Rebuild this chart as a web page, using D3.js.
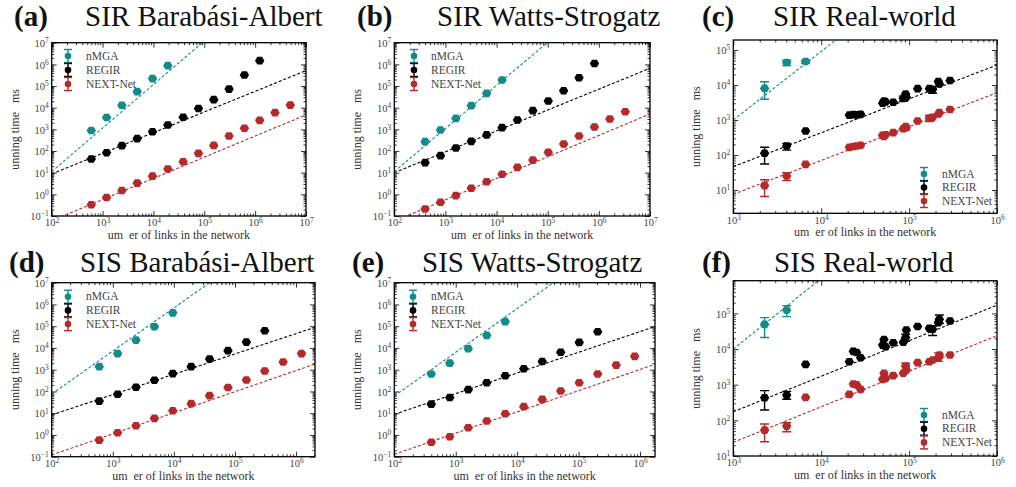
<!DOCTYPE html>
<html>
<head>
<meta charset="utf-8">
<script src="https://cdn.jsdelivr.net/npm/d3@7/dist/d3.min.js"></script>
<style>
  body { margin: 0; background: #fff; }
  svg { display: block; }
</style>
</head>
<body>
<svg id="chart" width="1016" height="487"></svg>
<script>
// network sizes (number of links) used for the synthetic networks
var sizesBA = [600, 1200, 2400, 4800, 9600, 19200, 38400, 76800, 153600, 307200, 614400, 1228800, 2457600, 4915200];
var sizesWS = [400, 800, 1600, 3200, 6400, 12800, 25600, 51200, 102400, 204800, 409600, 819200, 1638400, 3276800];
var realLinks = [2270, 4050, 6650, 20900, 23200, 25300, 28100, 50000, 51800, 54000, 66000, 85900, 91400, 93000, 125000, 170000, 185000, 215000, 221000, 292000];

var seriesNames = ["nMGA", "REGIR", "NEXT-Net"];
var seriesColors = ["#148b8b", "#000000", "#b5292a"];

// (a) SIR Barabasi-Albert, running time in ms
var sirBA_nmga = [890, 3500, 13000, 55000, 220000, 870000];
var sirBA_regir = [43, 83, 178, 372, 780, 1580, 3600, 9100, 23500, 72000, 322000, 1480000];
var sirBA_next = [0.33, 0.72, 1.5, 3.3, 6.9, 14.7, 32, 78, 182, 490, 1120, 2600, 5900, 13200];

// (b) SIR Watts-Strogatz
var sirWS_nmga = [270, 930, 3200, 12400, 46000, 190000];
var sirWS_regir = [29, 61, 137, 280, 555, 1200, 2700, 7300, 20400, 61000, 240000, 1100000];
var sirWS_next = [0.21, 0.43, 0.87, 1.9, 3.8, 8.4, 17.6, 38, 87, 210, 490, 1280, 3000, 6500];

// (c) SIR real-world
var sirReal_nmga = [8000, 44000, 47000];
var sirReal_regir = [112, 180, 485, 1380, 1420, 1400, 1450, 3000, 3500, 3300, 3200, 4100, 5500, 4500, 7850, 7850, 7500, 12600, 10700, 13500];
var sirReal_next = [13.3, 25, 54, 165, 175, 180, 190, 365, 340, 380, 435, 560, 645, 600, 935, 1140, 1200, 1490, 1620, 2000];
// error bars: [index, low, high]
var sirReal_nmgaErr = [[0, 3900, 12400], [1, 36000, 51000], [2, 42000, 52000]];
var sirReal_regirErr = [[0, 55, 166], [1, 138, 215], [11, 3400, 4800], [16, 5800, 9000]];
var sirReal_nextErr = [[0, 6.5, 19.5], [1, 18.5, 31], [12, 520, 700], [15, 900, 1350]];

// (d) SIS Barabasi-Albert
var sisBA_nmga = [1380, 5500, 23000, 95000, 410000];
var sisBA_regir = [36, 74, 155, 325, 660, 1380, 3100, 7500, 18600, 62000];
var sisBA_next = [0.58, 1.26, 2.66, 5.8, 13, 27.5, 64, 153, 335, 870, 2250, 5500];

// (e) SIS Watts-Strogatz
var sisWS_nmga = [630, 2000, 9300, 38000, 162000];
var sisWS_regir = [26, 53, 121, 253, 530, 1110, 2400, 6300, 18000, 56000];
var sisWS_next = [0.46, 0.83, 2.15, 4.4, 9.5, 20, 43, 105, 253, 630, 1630, 4100];

// (f) SIS real-world
var sisReal_nmga = [49000, 124000];
var sisReal_regir = [430, 510, 3700, 4400, 8600, 8000, 5700, 12900, 18500, 11600, 15000, 15500, 21000, 34000, 43000, 38000, 36000, 55000, 68000, 61000];
var sisReal_next = [53, 69, 440, 535, 1040, 990, 740, 1410, 2090, 1500, 1790, 2090, 3330, 2600, 4150, 4400, 4900, 5600, 6800, 6800];
var sisReal_nmgaErr = [[0, 21000, 76000], [1, 81000, 165000]];
var sisReal_regirErr = [[0, 195, 680], [1, 390, 650], [12, 16500, 26000], [16, 24000, 45000], [18, 52000, 90000]];
var sisReal_nextErr = [[0, 25, 79], [1, 48, 86], [12, 2500, 4000], [17, 4500, 7800]];

// power-law fits: [log10(time) at 1000 links, exponent], order nMGA, REGIR, NEXT-Net
var fitSirBA = [[3.06, 2.01], [1.894, 0.954], [-0.242, 0.978]];
var fitSirWS = [[3.04, 1.99], [1.964, 0.964], [-0.25, 0.99]];
var fitSirReal = [[3.0, 1.96], [1.667, 0.968], [0.876, 0.968]];
var fitSisBA = [[3.86, 1.98], [1.855, 0.935], [0.05, 0.97]];
var fitSisWS = [[3.80, 2.01], [1.90, 0.95], [0.085, 0.975]];
var fitSisReal = [[4.0, 1.98], [2.24, 0.997], [1.383, 0.997]];

var FONT = "Liberation Serif";

var svg = d3.select("#chart");

var panels = [
    {tag: "(a)", title: "SIR Barabási-Albert", tagX: 14, titleX: 85, base: 26,
     box: [51.7, 306, 42.7, 216], xDom: [1e2, 1e7], yDom: [1e-1, 1e7],
     xs: [sizesBA, sizesBA, sizesBA], ys: [sirBA_nmga, sirBA_regir, sirBA_next], errs: [[], [], []],
     fits: fitSirBA, legend: [68, 86, 56, 14]},
    {tag: "(b)", title: "SIR Watts-Strogatz", tagX: 357, titleX: 437, base: 26,
     box: [394.3, 650, 42.7, 216], xDom: [1e2, 1e7], yDom: [1e-1, 1e7],
     xs: [sizesWS, sizesWS, sizesWS], ys: [sirWS_nmga, sirWS_regir, sirWS_next], errs: [[], [], []],
     fits: fitSirWS, legend: [414, 431, 56, 14]},
    {tag: "(c)", title: "SIR Real-world", tagX: 702, titleX: 773, base: 26,
     box: [733.3, 997, 40, 213.3], xDom: [1e3, 1e6], yDom: [Math.pow(10, 0.333), Math.pow(10, 5.286)],
     xs: [realLinks, realLinks, realLinks], ys: [sirReal_nmga, sirReal_regir, sirReal_next],
     errs: [sirReal_nmgaErr, sirReal_regirErr, sirReal_nextErr],
     fits: fitSirReal, legend: [924, 942, 174, 13.5]},
    {tag: "(d)", title: "SIS Barabási-Albert", tagX: 9, titleX: 80, base: 272,
     box: [51.7, 315, 282.7, 456.7], xDom: [1e2, Math.pow(10, 6.31)], yDom: [1e-1, 1e7],
     xs: [sizesBA, sizesBA, sizesBA], ys: [sisBA_nmga, sisBA_regir, sisBA_next], errs: [[], [], []],
     fits: fitSisBA, legend: [68, 86, 296.7, 13.7]},
    {tag: "(e)", title: "SIS Watts-Strogatz", tagX: 352, titleX: 422, base: 272,
     box: [394.3, 655, 282.7, 456.7], xDom: [1e2, Math.pow(10, 6.244)], yDom: [1e-1, 1e7],
     xs: [sizesWS, sizesWS, sizesWS], ys: [sisWS_nmga, sisWS_regir, sisWS_next], errs: [[], [], []],
     fits: fitSisWS, legend: [413, 431, 296.7, 13.7]},
    {tag: "(f)", title: "SIS Real-world", tagX: 702, titleX: 774, base: 272,
     box: [733.3, 997, 280.7, 456], xDom: [1e3, 1e6], yDom: [1e1, Math.pow(10, 5.916)],
     xs: [realLinks, realLinks, realLinks], ys: [sisReal_nmga, sisReal_regir, sisReal_next],
     errs: [sisReal_nmgaErr, sisReal_regirErr, sisReal_nextErr],
     fits: fitSisReal, legend: [924, 942, 415, 13.7]}
];

var hexPath = "M-4.7,0L-2.4,-3.8L2.4,-3.8L4.7,0L2.4,3.8L-2.4,3.8Z";

function logTicks(dom) {
    var lo = Math.floor(Math.log10(dom[0]) + 1e-9), hi = Math.ceil(Math.log10(dom[1]) - 1e-9);
    var major = [], minor = [];
    for (var e = lo; e <= hi; e++) {
        var b = Math.pow(10, e);
        if (b >= dom[0] * 0.999 && b <= dom[1] * 1.001) major.push(b);
        for (var k = 2; k < 10; k++) {
            if (k * b > dom[0] && k * b < dom[1]) minor.push(k * b);
        }
    }
    return {major: major, minor: minor};
}

function supLabels(sel) {
    sel.selectAll(".tick text").each(function (d) {
        var t = d3.select(this), e = Math.round(Math.log10(d));
        t.text("");
        t.append("tspan").text("10");
        t.append("tspan").attr("dy", "-0.5em").attr("font-size", "7.5")
            .text(e < 0 ? "\u2212" + (-e) : String(e));
    });
}

panels.forEach(function (p, pi) {
    var L = p.box[0], R = p.box[1], T = p.box[2], B = p.box[3];
    var x = d3.scaleLog().domain(p.xDom).range([L, R]);
    var y = d3.scaleLog().domain(p.yDom).range([B, T]);
    var g = svg.append("g");

    g.append("clipPath").attr("id", "clip" + pi)
        .append("rect").attr("x", L).attr("y", T).attr("width", R - L).attr("height", B - T);

    var xt = logTicks(p.xDom), yt = logTicks(p.yDom);

    // ticks on all four sides, pointing inward
    function addAxis(axisFn, scale, ticks, size, tx, ty, labels) {
        var ax = axisFn(scale).tickValues(ticks).tickSizeInner(-size).tickSizeOuter(0)
            .tickPadding(3).tickFormat(labels ? d3.format("") : "");
        var a = g.append("g").attr("transform", "translate(" + tx + "," + ty + ")").call(ax);
        a.attr("font-family", FONT).attr("font-size", 10.5);
        a.select(".domain").remove();
        a.selectAll("line").attr("stroke", "#000").attr("stroke-width", 0.8);
        if (labels) {
            a.selectAll("text").attr("fill", "#444");
            supLabels(a);
        }
        return a;
    }
    addAxis(d3.axisBottom, x, xt.major, 5, 0, B, true);
    addAxis(d3.axisBottom, x, xt.minor, 2.5, 0, B, false);
    addAxis(d3.axisTop, x, xt.major, 5, 0, T, false);
    addAxis(d3.axisTop, x, xt.minor, 2.5, 0, T, false);
    var yl = addAxis(d3.axisLeft, y, yt.major, 5, L, 0, true);
    yl.selectAll("text").attr("dy", "0.35em");
    addAxis(d3.axisLeft, y, yt.minor, 2.5, L, 0, false);
    addAxis(d3.axisRight, y, yt.major, 5, R, 0, false);
    addAxis(d3.axisRight, y, yt.minor, 2.5, R, 0, false);

    // fit lines
    var plot = g.append("g").attr("clip-path", "url(#clip" + pi + ")");
    p.fits.forEach(function (f, si) {
        var ends = p.xDom.map(function (v) {
            return [v, Math.pow(10, f[0] + f[1] * (Math.log10(v) - 3))];
        });
        plot.append("path")
            .attr("d", d3.line().x(function (d) { return x(d[0]); }).y(function (d) { return y(d[1]); })(ends))
            .attr("fill", "none").attr("stroke", seriesColors[si])
            .attr("stroke-width", 1.1).attr("stroke-dasharray", "3,2");
    });

    // error bars and markers
    p.ys.forEach(function (vals, si) {
        var xs = p.xs[si];
        var col = seriesColors[si];
        p.errs[si].forEach(function (e) {
            var cx = x(xs[e[0]]);
            var eg = plot.append("g").attr("stroke", col).attr("stroke-width", 1.4);
            eg.append("line").attr("x1", cx).attr("x2", cx).attr("y1", y(e[1])).attr("y2", y(e[2]));
            eg.append("line").attr("x1", cx - 4.5).attr("x2", cx + 4.5).attr("y1", y(e[1])).attr("y2", y(e[1]));
            eg.append("line").attr("x1", cx - 4.5).attr("x2", cx + 4.5).attr("y1", y(e[2])).attr("y2", y(e[2]));
        });
        plot.selectAll(null).data(vals).enter().append("path")
            .attr("d", hexPath)
            .attr("transform", function (d, i) { return "translate(" + x(xs[i]) + "," + y(d) + ")"; })
            .attr("fill", col);
    });

    // frame
    g.append("rect").attr("x", L).attr("y", T).attr("width", R - L).attr("height", B - T)
        .attr("fill", "none").attr("stroke", "#000").attr("stroke-width", 1.3);

    // legend
    var lg = p.legend;
    seriesNames.forEach(function (name, si) {
        var ly = lg[2] + si * lg[3];
        var c = seriesColors[si];
        var le = g.append("g").attr("stroke", c).attr("stroke-width", 1.4);
        le.append("line").attr("x1", lg[0]).attr("x2", lg[0]).attr("y1", ly - 6.5).attr("y2", ly + 6.5);
        le.append("line").attr("x1", lg[0] - 4).attr("x2", lg[0] + 4).attr("y1", ly - 6.5).attr("y2", ly - 6.5);
        le.append("line").attr("x1", lg[0] - 4).attr("x2", lg[0] + 4).attr("y1", ly + 6.5).attr("y2", ly + 6.5);
        g.append("circle").attr("cx", lg[0]).attr("cy", ly).attr("r", 3.3).attr("fill", c);
        g.append("text").attr("x", lg[1]).attr("y", ly + 3.7).attr("font-size", 11.5)
            .attr("font-family", FONT).attr("fill", "#444").text(name);
    });

    // axis labels (glyphs missing in the original are left as gaps)
    g.append("text").attr("x", (L + R) / 2).attr("y", B + 23).attr("text-anchor", "middle")
        .attr("font-size", 12).attr("font-family", FONT).attr("xml:space", "preserve")
        .attr("fill", "#333").text("um  er of links in the network");
    g.append("text").attr("transform", "translate(" + (L - 33) + "," + ((T + B) / 2) + ") rotate(-90)")
        .attr("text-anchor", "middle").attr("font-size", 12).attr("font-family", FONT)
        .attr("xml:space", "preserve").attr("fill", "#333").text("unning time   ms");

    // panel titles
    g.append("text").attr("x", p.tagX).attr("y", p.base).attr("font-size", 29)
        .attr("font-family", FONT).attr("font-weight", "bold").attr("fill", "#111").text(p.tag);
    g.append("text").attr("x", p.titleX).attr("y", p.base).attr("font-size", 29)
        .attr("font-family", FONT).attr("fill", "#111").text(p.title);
});
</script>
</body>
</html>
